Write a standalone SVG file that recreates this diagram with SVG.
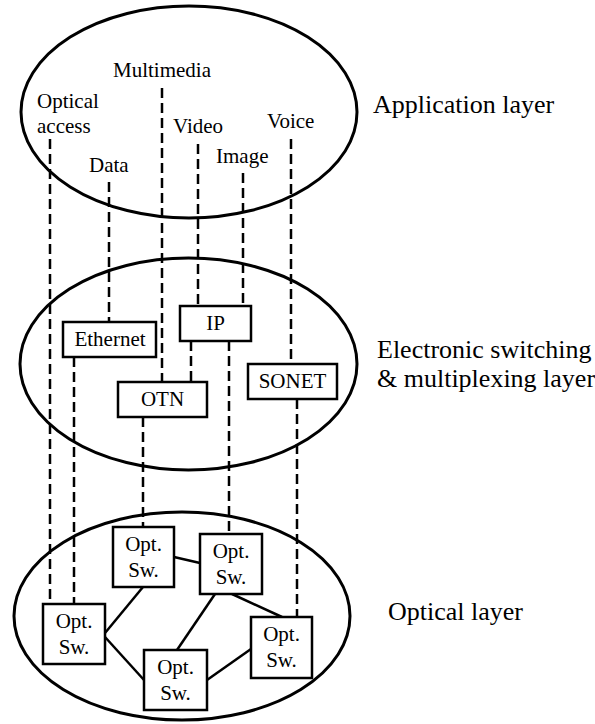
<svg xmlns="http://www.w3.org/2000/svg" width="595" height="724" viewBox="0 0 595 724">
<style>
.ell{fill:none;stroke:#000;stroke-width:3}
.box{fill:#fff;stroke:#000;stroke-width:2.5}
.t{font-family:"Liberation Serif","Times New Roman",serif;font-size:21px;fill:#000}
.c{text-anchor:middle}
.L{font-family:"Liberation Serif","Times New Roman",serif;font-size:26px;fill:#000}
.d{stroke:#000;stroke-width:2.5;stroke-dasharray:10 5;fill:none}
.s{stroke:#000;stroke-width:2.5;fill:none}
</style>
<rect width="595" height="724" fill="#fff"/>
<g id="layers">
<ellipse class="ell" cx="189" cy="112" rx="168" ry="106"/>
<ellipse class="ell" cx="188.5" cy="364" rx="168.5" ry="106"/>
<ellipse class="ell" cx="182" cy="616" rx="168" ry="104"/>
<text class="L" x="373" y="113">Application layer</text>
<text class="L" x="377" y="358">Electronic switching</text>
<text class="L" x="377" y="387">&amp; multiplexing layer</text>
<text class="L" x="388" y="620">Optical layer</text>
</g>
<g id="apps">
<text class="t" x="113" y="77">Multimedia</text>
<text class="t" x="37" y="108">Optical</text>
<text class="t" x="37" y="133">access</text>
<text class="t" x="89" y="172">Data</text>
<text class="t" x="173" y="133">Video</text>
<text class="t" x="216" y="163">Image</text>
<text class="t" x="267" y="128">Voice</text>
</g>
<g id="connectors">
<line class="d" x1="50" y1="139" x2="50" y2="604"/>
<line class="d" x1="109" y1="182" x2="109" y2="322"/>
<line class="d" x1="162" y1="88" x2="162" y2="382"/>
<line class="d" x1="198" y1="144" x2="198" y2="306"/>
<line class="d" x1="243" y1="173" x2="243" y2="306"/>
<line class="d" x1="291" y1="139" x2="291" y2="364"/>
<line class="d" x1="74" y1="357" x2="74" y2="604"/>
<line class="d" x1="191" y1="341" x2="191" y2="382"/>
<line class="d" x1="229" y1="341" x2="229" y2="534"/>
<line class="d" x1="143" y1="417" x2="143" y2="527"/>
<line class="d" x1="297" y1="399" x2="297" y2="617"/>
<line class="s" x1="174" y1="557" x2="200" y2="563"/>
<line class="s" x1="143" y1="587" x2="105" y2="633"/>
<line class="s" x1="105" y1="637" x2="144" y2="680"/>
<line class="s" x1="215" y1="594" x2="177" y2="650"/>
<line class="s" x1="232" y1="594" x2="282" y2="617"/>
<line class="s" x1="207" y1="680" x2="251" y2="649"/>
</g>
<g id="ethernet"><rect class="box" x="63" y="322" width="93" height="35"/><text class="t c" x="110" y="346">Ethernet</text></g>
<g id="ip"><rect class="box" x="180" y="306" width="71" height="35"/><text class="t c" x="215.5" y="330">IP</text></g>
<g id="otn"><rect class="box" x="118" y="382" width="89" height="35"/><text class="t c" x="162.5" y="406">OTN</text></g>
<g id="sonet"><rect class="box" x="248" y="364" width="89" height="35"/><text class="t c" x="292.5" y="388">SONET</text></g>
<g id="os1"><rect class="box" x="113" y="527" width="61" height="60"/><text class="t c" x="143.5" y="551">Opt.</text><text class="t c" x="143.5" y="577">Sw.</text></g>
<g id="os2"><rect class="box" x="200" y="534" width="62" height="60"/><text class="t c" x="231" y="558">Opt.</text><text class="t c" x="231" y="584">Sw.</text></g>
<g id="os3"><rect class="box" x="43" y="604" width="62" height="60"/><text class="t c" x="74" y="628">Opt.</text><text class="t c" x="74" y="654">Sw.</text></g>
<g id="os4"><rect class="box" x="144" y="650" width="63" height="60"/><text class="t c" x="175.5" y="674">Opt.</text><text class="t c" x="175.5" y="700">Sw.</text></g>
<g id="os5"><rect class="box" x="251" y="617" width="61" height="61"/><text class="t c" x="281.5" y="641">Opt.</text><text class="t c" x="281.5" y="667">Sw.</text></g>
</svg>
